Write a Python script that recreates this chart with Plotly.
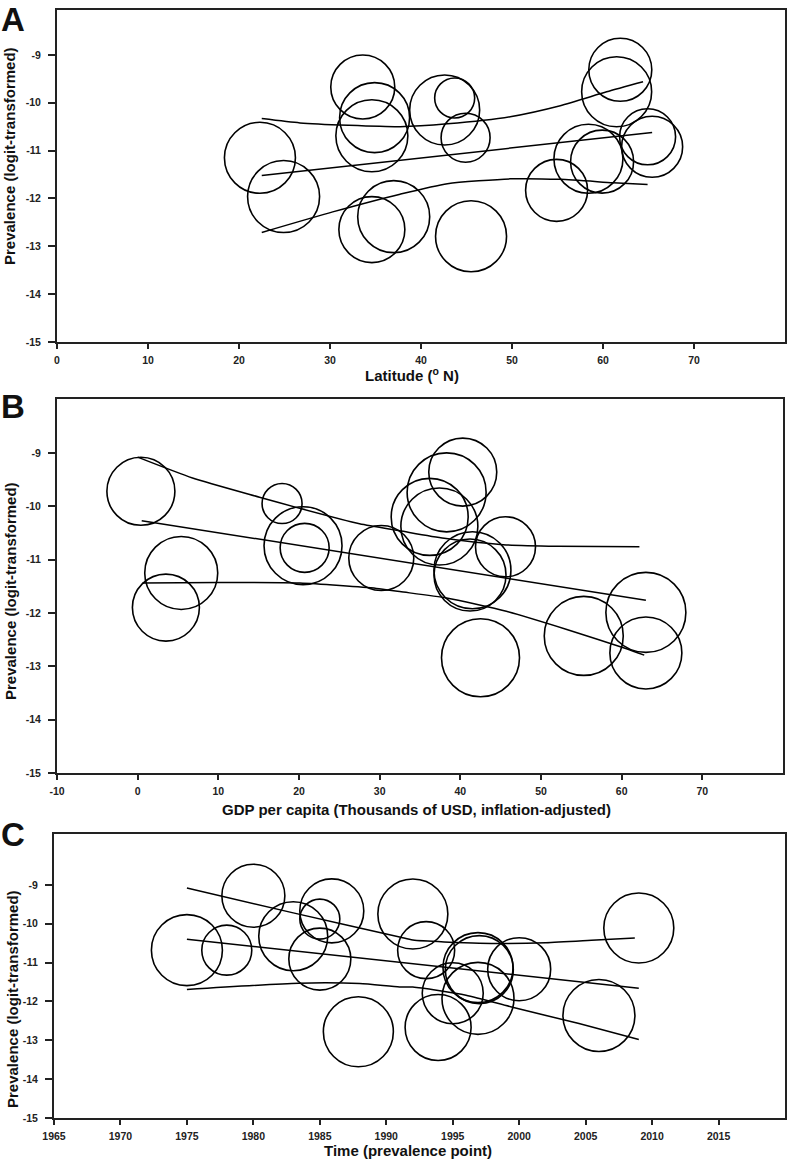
import plotly.graph_objects as go

# ---------------- Panel A: Latitude ----------------
lat_x = [22.3, 24.9, 33.6, 34.9, 34.6, 34.6, 37.0, 42.6, 43.7, 44.9, 45.5, 54.9, 58.4, 59.9, 61.9, 61.5, 64.9, 65.4]
lat_y = [-11.15, -11.96, -9.67, -10.31, -10.69, -12.65, -12.38, -10.15, -9.90, -10.73, -12.79, -11.83, -11.17, -11.23, -9.31, -9.77, -10.71, -10.92]
lat_w = [71, 72, 64, 70, 72, 66, 72, 70, 40, 49, 71, 62, 69, 63, 63, 70, 56, 61]
lat_fit_x = [22.5, 65.4]
lat_fit_y = [-11.52, -10.62]
lat_up_x = [22.5, 26.7, 32.0, 37.7, 42.9, 49.8, 55.3, 60.4, 64.4]
lat_up_y = [-10.33, -10.42, -10.47, -10.50, -10.44, -10.29, -10.06, -9.77, -9.56]
lat_lo_x = [22.5, 30.3, 37.7, 42.9, 49.8, 55.3, 61.1, 64.9]
lat_lo_y = [-12.71, -12.28, -11.91, -11.69, -11.59, -11.60, -11.67, -11.71]

# ---------------- Panel B: GDP ----------------
gdp_x = [0.4, 5.4, 3.5, 17.9, 20.5, 20.7, 30.2, 40.3, 38.3, 36.2, 37.4, 45.6, 41.5, 41.2, 42.5, 55.3, 63.0, 63.0]
gdp_y = [-9.72, -11.25, -11.90, -9.95, -10.74, -10.78, -10.97, -9.36, -9.74, -10.20, -10.38, -10.76, -11.20, -11.29, -12.84, -12.43, -11.99, -12.75]
gdp_w = [68, 73, 67, 40, 78, 49, 65, 68, 79, 77, 77, 60, 77, 72, 78, 79, 80, 72]
gdp_fit_x = [0.5, 63.0]
gdp_fit_y = [-10.27, -11.76]
gdp_up_x = [0.0, 6.8, 15.1, 20.1, 27.5, 32.5, 38.0, 45.3, 52.0, 62.2]
gdp_up_y = [-9.08, -9.47, -9.83, -10.04, -10.33, -10.46, -10.60, -10.72, -10.75, -10.76]
gdp_lo_x = [0.6, 10.0, 20.1, 29.6, 32.5, 38.3, 45.7, 53.2, 60.6, 62.8]
gdp_lo_y = [-11.44, -11.43, -11.44, -11.54, -11.60, -11.72, -11.97, -12.31, -12.67, -12.79]

# ---------------- Panel C: Time ----------------
time_x = [1975.0, 1978.0, 1980.0, 1983.0, 1985.9, 1985.0, 1985.0, 1987.9, 1992.0, 1993.0, 1995.0, 1993.9, 1996.9, 1997.0, 1996.9, 2000.0, 2006.0, 2009.0]
time_y = [-10.68, -10.68, -9.28, -10.32, -9.67, -9.88, -10.91, -12.78, -9.75, -10.68, -11.79, -12.67, -11.13, -11.18, -11.92, -11.17, -12.36, -10.11]
time_w = [71, 50, 63, 69, 64, 40, 62, 70, 70, 57, 61, 66, 70, 68, 72, 63, 72, 70]
time_fit_x = [1975.0, 2009.0]
time_fit_y = [-10.40, -11.66]
time_up_x = [1975.0, 1983.0, 1991.0, 1992.0, 1997.0, 2002.0, 2005.8, 2008.7]
time_up_y = [-9.08, -9.72, -10.34, -10.42, -10.50, -10.49, -10.42, -10.37]
time_lo_x = [1975.0, 1983.4, 1988.0, 1991.0, 1992.0, 1996.0, 1999.5, 2004.5, 2009.0]
time_lo_y = [-11.69, -11.53, -11.54, -11.63, -11.63, -11.84, -12.15, -12.57, -12.98]

y_ticks = [-15, -14, -13, -12, -11, -10, -9]
x_ticks_a = [0, 10, 20, 30, 40, 50, 60, 70]
x_ticks_b = [-10, 0, 10, 20, 30, 40, 50, 60, 70]
x_ticks_c = [1965, 1970, 1975, 1980, 1985, 1990, 1995, 2000, 2005, 2010, 2015]

W, H = 787, 1161
INK = "#000000"
FONT = "Liberation Sans, Arial, sans-serif"

fig = go.Figure()

panels = [
    ("", "", lat_x, lat_y, lat_w, lat_fit_x, lat_fit_y, lat_up_x, lat_up_y, lat_lo_x, lat_lo_y),
    ("2", "2", gdp_x, gdp_y, gdp_w, gdp_fit_x, gdp_fit_y, gdp_up_x, gdp_up_y, gdp_lo_x, gdp_lo_y),
    ("3", "3", time_x, time_y, time_w, time_fit_x, time_fit_y, time_up_x, time_up_y, time_lo_x, time_lo_y),
]
for xs, ys, px, py, pw, fx, fy, ux, uy, lx, ly in panels:
    xa, ya = "x" + xs, "y" + ys
    fig.add_trace(go.Scatter(x=px, y=py, mode="markers", xaxis=xa, yaxis=ya,
                             marker=dict(size=pw, sizemode="diameter", symbol="circle-open",
                                         opacity=1, color=INK, line=dict(width=1.6, color=INK)),
                             showlegend=False, hoverinfo="x+y"))
    for lx_, ly_ in [(fx, fy), (ux, uy), (lx, ly)]:
        fig.add_trace(go.Scatter(x=lx_, y=ly_, mode="lines", xaxis=xa, yaxis=ya,
                                 line=dict(color=INK, width=1.5, shape="spline", smoothing=0.6),
                                 showlegend=False, hoverinfo="skip"))

def px2x(p):
    return p / W

def px2y(p):
    return 1 - p / H

def bold(vals):
    return ["<b>%s</b>" % v for v in vals]

axis_common = dict(showline=True, mirror=True, linecolor="#222", linewidth=2,
                   ticks="outside", tickwidth=2, tickcolor="#222",
                   showgrid=False, zeroline=False, automargin=False,
                   tickfont=dict(family=FONT, size=10.5, color="#222"))

# pixel boxes: (left, right, top, bottom)
boxes = [(57, 785, 10, 342), (57, 783, 399, 773), (54, 785, 834, 1118)]
xranges = [[0, 80], [-10, 80], [1965, 2020]]
yranges = [[-15, -8.06], [-15, -7.99], [-15, -7.69]]
xticks = [x_ticks_a, x_ticks_b, x_ticks_c]

layout = dict(width=W, height=H, margin=dict(l=0, r=0, t=0, b=0, autoexpand=False),
              paper_bgcolor="white", plot_bgcolor="white", showlegend=False)
for i, (l, r, t, b) in enumerate(boxes):
    suf = "" if i == 0 else str(i + 1)
    layout["xaxis" + suf] = dict(axis_common, domain=[px2x(l), px2x(r)], range=xranges[i],
                                 tickvals=xticks[i], ticktext=bold(xticks[i]), anchor="y" + suf,
                                 ticklen=5, ticklabelstandoff=2)
    layout["yaxis" + suf] = dict(axis_common, domain=[px2y(b), px2y(t)], range=yranges[i],
                                 tickvals=y_ticks, ticktext=bold(y_ticks), anchor="x" + suf,
                                 ticklen=7, ticklabelstandoff=5)
fig.update_layout(**layout)

ann = []
title_font = dict(family=FONT, size=15, color="#111")
letter_font = dict(family=FONT, size=33, color="#111")
for letter, ly in [("A", 0), ("B", 387), ("C", 815)]:
    ann.append(dict(text="<b>%s</b>" % letter, x=px2x(0), y=px2y(ly), xref="paper", yref="paper",
                    xanchor="left", yanchor="top", showarrow=False, font=letter_font, borderpad=0))
for cy, cx in [(156, 10), (591, 10), (999, 12)]:
    ann.append(dict(text="<b>Prevalence (logit-transformed)</b>", x=px2x(cx), y=px2y(cy),
                    xref="paper", yref="paper", xanchor="center", yanchor="middle",
                    textangle=-90, showarrow=False, font=title_font))
for txt, cx, cy in [("<b>Latitude (<sup>o</sup> N)</b>", 412, 374),
                    ("<b>GDP per capita (Thousands of USD, inflation-adjusted)</b>", 416, 809),
                    ("<b>Time (prevalence point)</b>", 408, 1150)]:
    ann.append(dict(text=txt, x=px2x(cx), y=px2y(cy), xref="paper", yref="paper",
                    xanchor="center", yanchor="middle", showarrow=False, font=title_font))
fig.update_layout(annotations=ann)

fig.write_html("out.html", config={"displayModeBar": False},
               post_script="document.body.style.margin='0';")
